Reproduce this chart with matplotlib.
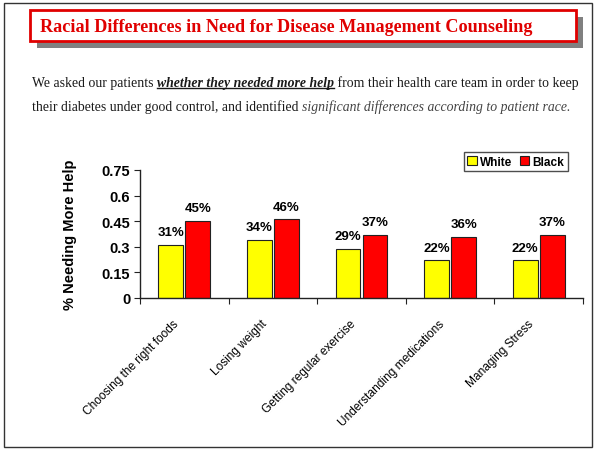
import matplotlib
matplotlib.use("Agg")
import matplotlib.pyplot as plt
from matplotlib.patches import Rectangle
import numpy as np

categories = ["Choosing the right foods", "Losing weight", "Getting regular exercise",
              "Understanding medications", "Managing Stress"]
white = [0.31, 0.34, 0.29, 0.22, 0.22]
black = [0.45, 0.46, 0.37, 0.36, 0.37]
white_labels = ["31%", "34%", "29%", "22%", "22%"]
black_labels = ["45%", "46%", "37%", "36%", "37%"]
yticks = [0, 0.15, 0.3, 0.45, 0.6, 0.75]
ytick_labels = ["0", "0.15", "0.3", "0.45", "0.6", "0.75"]

W, H = 600, 452
fig = plt.figure(figsize=(W / 100, H / 100), dpi=100)
fig.patch.set_facecolor("white")

def px(x, y):
    return x / W, 1 - y / H

# outer border
fig.patches.append(Rectangle(px(3.5, 448), 588.5 / W, 444.5 / H, transform=fig.transFigure,
                             fill=False, edgecolor="#333333", linewidth=1.0))
# title shadow + box
fig.patches.append(Rectangle(px(37, 49), 546 / W, 31 / H, transform=fig.transFigure,
                             facecolor="#808080", edgecolor="none"))
fig.patches.append(Rectangle(px(30, 42), 546 / W, 31 / H, transform=fig.transFigure,
                             facecolor="white", edgecolor="#e00000", linewidth=2))

fig.canvas.draw()
renderer = fig.canvas.get_renderer()

def fit_size(text, target, **kw):
    t = fig.text(0, 0, text, fontsize=10, **kw)
    w = t.get_window_extent(renderer).width
    t.remove()
    return 10 * target / w

title = "Racial Differences in Need for Disease Management Counseling"
tsize = fit_size(title, 495, family="Liberation Serif", fontweight="bold")
fig.text(*px(40, 27), title, family="Liberation Serif", fontweight="bold", fontsize=tsize,
         color="#e00000", ha="left", va="center")

line1 = [("We asked our patients ", ""), ("whether they needed more help", "biu"),
         (" from their health care team in order to keep", "")]
line2 = [("their diabetes under good control, and identified ", ""),
         ("significant differences according to patient race.", "ig")]

def style_kw(style, size):
    kw = dict(family="Liberation Serif", fontsize=size, color="#1a1a1a")
    if "b" in style:
        kw["fontweight"] = "bold"
    if "i" in style:
        kw["fontstyle"] = "italic"
    if "g" in style:
        kw["color"] = "#444444"
    return kw

def measure(parts, size):
    tot = 0
    for text, style in parts:
        t = fig.text(0, 0, text, **style_kw(style, size))
        tot += t.get_window_extent(renderer).width
        t.remove()
    return tot

psize = 10 * 542 / measure(line1, 10)

def runs(x0, y, parts, size):
    x = x0
    for text, style in parts:
        t = fig.text(*px(x, y), text, ha="left", va="baseline", **style_kw(style, size))
        w = t.get_window_extent(renderer).width
        if "u" in style:
            fig.add_artist(plt.Line2D([x / W, (x + w) / W], [1 - (y + 2) / H, 1 - (y + 2) / H],
                                      transform=fig.transFigure, color="#1a1a1a", linewidth=1))
        x += w

runs(32, 87, line1, psize)
runs(32, 111, line2, psize)

# chart
ax = fig.add_axes([140 / W, 1 - 299 / H, (583 - 140) / W, (299 - 171) / H])
x = np.arange(len(categories))
bw = 0.28
b1 = ax.bar(x - bw / 2 - 0.012, white, bw, color="#ffff00", edgecolor="#222222",
            linewidth=0.8, label="White")
b2 = ax.bar(x + bw / 2 + 0.012, black, bw, color="#ff0000", edgecolor="#222222",
            linewidth=0.8, label="Black")
for bars, labels in ((b1, white_labels), (b2, black_labels)):
    for rect, lab in zip(bars, labels):
        ax.annotate(lab, (rect.get_x() + rect.get_width() / 2, rect.get_height()),
                    xytext=(0, 5), textcoords="offset points", ha="center", va="bottom",
                    fontsize=9.5, fontweight="bold", family="Liberation Sans")

ax.set_xlim(-0.5, len(categories) - 0.5)
ax.set_ylim(0, 0.75)
ax.set_yticks(yticks)
ax.set_yticklabels(ytick_labels, fontsize=10.5, fontweight="bold", family="Liberation Sans")
ax.set_xticks(np.arange(len(categories) + 1) - 0.5)
ax.set_xticklabels([])
# category labels: anchored slightly left of each group centre
ax.set_xticks(x - 0.13, minor=True)
ax.set_xticklabels(categories, minor=True, rotation=45, ha="right", rotation_mode="anchor",
                   fontsize=8.6, family="Liberation Sans")
ax.tick_params(axis="x", which="minor", length=0, pad=14)
ax.tick_params(axis="x", which="major", length=4, direction="out", color="#222222")
ax.tick_params(axis="y", length=4, direction="out", color="#222222", pad=3)
for s in ["top", "right"]:
    ax.spines[s].set_visible(False)
for s in ["left", "bottom"]:
    ax.spines[s].set_color("#222222")
    ax.spines[s].set_linewidth(1)
ax.set_ylabel("% Needing More Help", fontsize=10.5, fontweight="bold",
              family="Liberation Sans", labelpad=18)

leg = ax.legend(loc="upper right", bbox_to_anchor=((568 - 140) / (583 - 140), 1 + 18 / 128),
                ncol=2, frameon=True, fancybox=False, edgecolor="#222222",
                prop=dict(family="Liberation Sans", weight="bold", size=8.5),
                handlelength=0.8, handleheight=0.8, handletextpad=0.3, columnspacing=0.6,
                borderpad=0.3, borderaxespad=0)
leg.get_frame().set_linewidth(1)

fig.savefig("out.png", dpi=100)
